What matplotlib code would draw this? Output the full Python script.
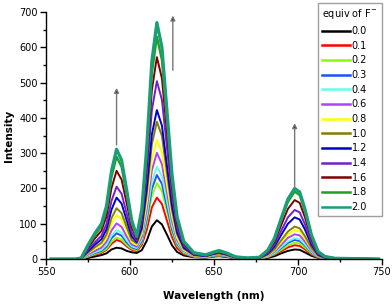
import matplotlib
matplotlib.use("Agg")
import matplotlib.pyplot as plt
from matplotlib.ticker import MultipleLocator

# ---- data ----
wavelength = [553, 568, 571, 575, 579, 583, 586, 589, 592, 595, 598, 601, 604,
              607, 610, 613, 616, 619, 622, 625, 628, 632, 638,
              645, 650, 653, 657, 663,
              670, 677, 682, 686, 690, 694, 698, 701, 704, 708, 712, 716, 722, 735, 748]

i_00 = [0,0,0,3,7,11,16,27,32,30,23,19, 17, 25,52,92,110,98,69,39,20,10,5, 4,7,8,6,2,
        1,1,3,8,16,23,27,26,19,9,3,1,0,0,0]
i_01 = [0,0,0,6,12,17,26,43,54,49,36,26, 22, 40,83,146,174,156,109,62,31,14,6, 5,8,9,7,2,
        1,1,5,12,22,33,39,37,28,13,4,1,0,0,0]
i_02 = [0,0,0,7,14,20,29,49,61,55,40,29, 25, 46,103,180,215,193,135,77,39,17,7, 5,9,10,8,3,
        1,1,6,14,26,39,46,44,33,16,5,2,0,0,0]
i_03 = [0,0,1,9,17,23,35,59,73,66,47,33, 28, 51,114,199,238,213,149,85,43,19,8, 6,10,11,8,3,
        1,1,7,16,31,46,54,51,39,18,6,2,1,0,0]
i_04 = [0,0,1,10,19,26,40,66,82,74,53,36, 31, 56,125,219,262,235,164,94,47,20,8, 6,11,12,9,3,
        1,1,7,17,34,50,59,56,42,20,6,2,1,0,0]
i_06 = [0,0,1,13,23,32,49,81,101,91,64,41, 35, 64,144,251,301,269,189,108,54,23,9, 7,12,13,10,3,
        1,2,9,21,40,60,70,67,50,24,7,2,1,0,0]
i_08 = [0,0,1,16,29,40,60,100,125,113,79,48, 40, 72,161,282,337,302,211,121,60,25,10, 7,13,15,11,4,
        1,2,10,24,47,70,82,78,59,28,9,3,1,0,0]
i_10 = [0,0,1,18,33,46,69,116,144,130,91,54, 44, 82,186,325,389,349,244,139,70,29,11, 8,14,16,12,4,
        1,2,12,27,53,78,92,87,66,31,10,3,1,0,0]
i_12 = [0,0,2,22,40,56,84,140,174,157,110,64, 48, 89,202,353,422,378,265,151,76,32,12, 8,15,17,13,4,
        2,3,15,35,68,100,118,112,85,40,12,4,1,1,0]
i_14 = [0,0,2,26,47,66,99,165,205,185,129,75, 52, 105,241,421,504,451,316,180,90,38,14, 9,16,18,14,5,
        2,3,17,41,80,118,139,132,100,47,15,5,1,1,0]
i_16 = [0,0,2,32,58,80,121,201,250,225,158,90, 57, 120,273,478,572,512,359,205,102,43,16, 10,17,20,15,5,
        3,4,21,49,96,142,167,159,120,57,18,6,2,1,0]
i_18 = [0,0,3,37,67,93,140,233,290,261,183,103, 62, 132,301,526,630,564,395,226,113,47,17, 11,19,22,17,6,
        3,5,24,56,110,162,191,181,138,65,20,7,2,1,0]
i_20 = [0,0,3,40,72,100,150,250,311,280,196,110, 65, 140,320,560,670,600,420,240,120,50,18, 12,20,24,18,6,
        3,5,25,59,115,170,200,190,144,68,21,7,2,1,0]

equiv_labels = ["0.0", "0.1", "0.2", "0.3", "0.4", "0.6", "0.8",
                "1.0", "1.2", "1.4", "1.6", "1.8", "2.0"]

# arrows: (x, y_start, y_end)
arrow_x = [592, 625.5, 698]
arrow_y0 = [323, 535, 201]
arrow_y1 = [485, 690, 385]

# ---- styles ----
series = [i_00, i_01, i_02, i_03, i_04, i_06, i_08, i_10, i_12, i_14, i_16, i_18, i_20]
colors = ["#000000", "#FF0000", "#88FF00", "#1F4FFF", "#66FFE6", "#B040FF", "#FFFF00",
          "#808000", "#0000CC", "#7020D0", "#800000", "#20A020", "#1A9E78"]
widths = [1.4]*11 + [1.7, 2.3]

fig = plt.figure(figsize=(3.92, 3.05), dpi=100)
ax = fig.add_axes([46/392, 46/305, 336/392, 247/305])

for ys, c, lw, lab in zip(series, colors, widths, equiv_labels):
    ax.plot(wavelength, ys, color=c, lw=lw, label=lab, solid_joinstyle="round")

for x, y0, y1 in zip(arrow_x, arrow_y0, arrow_y1):
    ax.annotate("", xy=(x, y1), xytext=(x, y0),
                arrowprops=dict(arrowstyle="-|>", color="#777777", lw=1.0,
                                mutation_scale=7, shrinkA=0, shrinkB=0,
                                fc="#222222", ec="#777777"))

ax.set_xlim(550, 750)
ax.set_ylim(0, 700)
ax.xaxis.set_major_locator(MultipleLocator(50))
ax.xaxis.set_minor_locator(MultipleLocator(25))
ax.yaxis.set_major_locator(MultipleLocator(100))
ax.yaxis.set_minor_locator(MultipleLocator(50))
ax.tick_params(which="major", length=4, width=1, labelsize=7, pad=2)
ax.tick_params(which="minor", length=2.5, width=1)
for s in ["top", "right"]:
    ax.spines[s].set_visible(False)
for s in ["left", "bottom"]:
    ax.spines[s].set_linewidth(1.0)

ax.set_xlabel("Wavelength (nm)", fontsize=7.5, fontweight="bold", labelpad=10)
ax.set_ylabel("Intensity", fontsize=7.5, fontweight="bold", labelpad=4)

leg = ax.legend(loc="upper right", bbox_to_anchor=(382/392, 302/305),
                bbox_transform=fig.transFigure, title="equiv of F$^{-}$",
                fontsize=7, title_fontsize=7, frameon=True, fancybox=False,
                edgecolor="#888888", handlelength=2.8, handletextpad=0.2,
                labelspacing=0.48, borderpad=0.45, borderaxespad=0,
                alignment="left")
leg.get_frame().set_linewidth(1.0)
for h in leg.get_lines():
    h.set_linewidth(1.8)

fig.savefig("out.png", dpi=100)
